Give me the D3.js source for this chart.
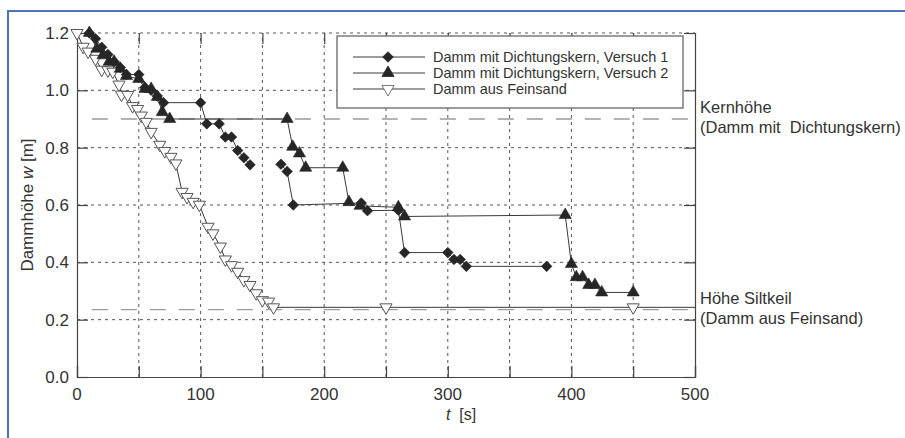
<!DOCTYPE html>
<html>
<head>
<meta charset="utf-8">
<script src="https://cdn.jsdelivr.net/npm/d3@7"></script>
<style>
  body { margin: 0; background: #fff; }
  svg { display: block; font-family: "Liberation Sans", Arial, sans-serif; }
</style>
</head>
<body>
<svg id="chart" width="905" height="438"></svg>
<script>
// t [s], w [m]
const versuch1 = [
    [10, 1.2], [15, 1.18], [20, 1.15], [25, 1.125], [30, 1.1], [35, 1.08], [40, 1.055],
    [50, 1.055], [55, 1.01], [60, 1.0], [65, 0.98], [70, 0.957], [100, 0.957],
    [105, 0.883], [115, 0.883], [120, 0.837], [125, 0.837], [130, 0.79], [135, 0.765],
    [140, 0.74], null, [165, 0.742], [170, 0.717], [175, 0.6], [230, 0.607], [235, 0.58],
    [260, 0.582], [265, 0.434], [300, 0.434], [305, 0.41], [310, 0.41], [315, 0.386],
    [380, 0.386]
];
const versuch2 = [
    [10, 1.2], [16, 1.145], [21, 1.122], [26, 1.1], [30, 1.1], [35, 1.075], [40, 1.05],
    [50, 1.04], [55, 1.005], [60, 1.005], [65, 0.977], [69, 0.924], [75, 0.9], [170, 0.9],
    [174.5, 0.803], [180, 0.78], [185, 0.73], [215, 0.73], [220, 0.61], [229, 0.597],
    [260, 0.592], [265, 0.56], [395, 0.565], [400, 0.394], [404, 0.348], [409, 0.348],
    [414, 0.321], [419, 0.321], [424.5, 0.295], [450, 0.295]
];
const feinsand = [
    [0, 1.2], [5, 1.152], [9, 1.135], [15, 1.11], [20, 1.072], [25, 1.07], [29, 1.065],
    [34, 1.02], [36, 0.985], [41, 0.984], [45, 0.945], [49, 0.935], [52, 0.912], [56, 0.89],
    [60, 0.855], [67, 0.81], [71, 0.788], [76, 0.768], [80, 0.745], [85, 0.646], [89, 0.628],
    [94, 0.611], [99, 0.601], [106, 0.524], [110, 0.501], [116, 0.455], [120, 0.41],
    [125, 0.39], [130, 0.367], [135, 0.338], [140, 0.321], [145, 0.292], [150, 0.268],
    [155, 0.263], [159, 0.243], [250, 0.243], [450, 0.243], [500, 0.243]
];
const kernHoehe = 0.9;
const siltkeilHoehe = 0.235;

const xTicks = [0, 100, 200, 300, 400, 500];
const xGrid = [50, 100, 150, 200, 250, 300, 350, 400, 450];
const yTicks = [0.0, 0.2, 0.4, 0.6, 0.8, 1.0, 1.2];

const legendLabels = [
    'Damm mit Dichtungskern, Versuch 1',
    'Damm mit Dichtungskern, Versuch 2',
    'Damm aus Feinsand'
];

const svg = d3.select('#chart');
const margin = {left: 77, top: 33, right: 210, bottom: 61};
const width = 905, height = 438;

const x = d3.scaleLinear().domain([0, 500]).range([margin.left, width - margin.right]);
const y = d3.scaleLinear().domain([0, 1.2]).range([height - margin.bottom, margin.top]);

// blue frame of the scan
svg.append('path')
    .attr('d', `M8,438 L8,11 L905,11`)
    .attr('fill', 'none')
    .attr('stroke', '#4f72b3')
    .attr('stroke-width', 2);

const grid = svg.append('g')
    .attr('stroke', '#555')
    .attr('stroke-width', 1)
    .attr('stroke-dasharray', '3,4');

grid.selectAll('line.v')
    .data(xGrid)
    .join('line')
    .attr('x1', d => x(d)).attr('x2', d => x(d))
    .attr('y1', y(0)).attr('y2', y(1.2));

grid.selectAll('line.h')
    .data(yTicks.filter(d => d > 0))
    .join('line')
    .attr('class', 'h')
    .attr('x1', x(0)).attr('x2', x(500))
    .attr('y1', d => y(d)).attr('y2', d => y(d));

// reference heights
svg.append('g')
    .attr('stroke', '#9a9a9a')
    .attr('stroke-width', 1.3)
    .attr('stroke-dasharray', '16,13')
    .selectAll('line')
    .data([kernHoehe, siltkeilHoehe])
    .join('line')
    .attr('x1', x(12)).attr('x2', x(500))
    .attr('y1', d => y(d)).attr('y2', d => y(d));

// axes, ticks pointing inward
const tickLen = 11;
svg.append('g')
    .attr('transform', `translate(0,${y(0)})`)
    .call(d3.axisBottom(x).tickValues(xGrid.concat([0, 500])).tickSize(-tickLen).tickFormat(''));
svg.append('g')
    .attr('transform', `translate(0,${y(1.2)})`)
    .call(d3.axisTop(x).tickValues(xGrid).tickSize(-tickLen).tickFormat(''))
    .call(g => g.select('.domain').remove());
svg.append('g')
    .attr('transform', `translate(${x(0)},0)`)
    .call(d3.axisLeft(y).tickValues(yTicks).tickSize(-tickLen).tickFormat(''));
svg.append('g')
    .attr('transform', `translate(${x(500)},0)`)
    .call(d3.axisRight(y).tickValues(yTicks).tickSize(-tickLen).tickFormat(''));

svg.selectAll('.domain, .tick line').attr('stroke', '#444').attr('stroke-width', 1.2);

// tick labels
svg.append('g')
    .selectAll('text')
    .data(xTicks)
    .join('text')
    .attr('x', d => x(d))
    .attr('y', y(0) + 23)
    .attr('text-anchor', 'middle')
    .attr('font-size', 17)
    .attr('fill', '#333')
    .text(d => d);

svg.append('g')
    .selectAll('text')
    .data(yTicks)
    .join('text')
    .attr('x', x(0) - 8)
    .attr('y', d => y(d) + 6)
    .attr('text-anchor', 'end')
    .attr('font-size', 17)
    .attr('fill', '#333')
    .text(d => d3.format('.1f')(d));

// axis titles
const yTitle = svg.append('text')
    .attr('transform', `translate(33,${(y(0) + y(1.2)) / 2}) rotate(-90)`)
    .attr('text-anchor', 'middle')
    .attr('font-size', 17)
    .attr('fill', '#333');
yTitle.append('tspan').text('Dammhöhe ');
yTitle.append('tspan').attr('font-style', 'italic').text('w');
yTitle.append('tspan').text(' [m]');

const xTitle = svg.append('text')
    .attr('x', (x(0) + x(500)) / 2 + 75)
    .attr('y', y(0) + 43)
    .attr('text-anchor', 'middle')
    .attr('font-size', 16)
    .attr('fill', '#333')
    .attr('xml:space', 'preserve');
xTitle.append('tspan').attr('font-style', 'italic').text('t');
xTitle.append('tspan').text('  [s]');

// series
const line = d3.line()
    .defined(d => d !== null)
    .x(d => x(d[0]))
    .y(d => y(d[1]));

const series = [
    {data: versuch1, symbol: 'diamond'},
    {data: versuch2, symbol: 'up'},
    {data: feinsand, symbol: 'down'}
];

const symbolPath = {
    diamond: d3.symbol(d3.symbolSquare, 56)(),
    up: d3.symbol(d3.symbolTriangle, 64)(),
    down: d3.symbol(d3.symbolTriangle, 64)()
};
const symbolRotate = {diamond: 45, up: 0, down: 180};

for (const s of series) {
    svg.append('path')
        .datum(s.data)
        .attr('d', line)
        .attr('fill', 'none')
        .attr('stroke', '#3a3a3a')
        .attr('stroke-width', 1);
}

for (const s of series.slice().reverse()) {
    svg.append('g')
        .selectAll('path')
        .data(s.data.filter(d => d !== null && d[0] < 500))
        .join('path')
        .attr('d', symbolPath[s.symbol])
        .attr('transform', d => `translate(${x(d[0])},${y(d[1])}) rotate(${symbolRotate[s.symbol]})`)
        .attr('fill', s.symbol === 'down' ? '#fff' : '#262626')
        .attr('stroke', s.symbol === 'down' ? '#555' : '#262626')
        .attr('stroke-width', s.symbol === 'down' ? 1 : 0.6);
}

// legend
const legend = svg.append('g');
legend.append('rect')
    .attr('x', 337).attr('y', 36)
    .attr('width', 346).attr('height', 72)
    .attr('fill', '#fff')
    .attr('stroke', '#666')
    .attr('stroke-width', 1.3);

const rows = legend.selectAll('g.row')
    .data(series)
    .join('g')
    .attr('transform', (d, i) => `translate(0,${57 + i * 16})`);

rows.append('line')
    .attr('x1', 353).attr('x2', 425)
    .attr('stroke', '#3a3a3a');
rows.append('path')
    .attr('d', d => symbolPath[d.symbol])
    .attr('transform', d => `translate(388,0) rotate(${symbolRotate[d.symbol]})`)
    .attr('fill', d => d.symbol === 'down' ? '#fff' : '#262626')
    .attr('stroke', d => d.symbol === 'down' ? '#555' : '#262626')
    .attr('stroke-width', 0.8);
rows.append('text')
    .attr('x', 433)
    .attr('y', 5)
    .attr('font-size', 14.5)
    .attr('fill', '#333')
    .text((d, i) => legendLabels[i]);

// annotations on the right
const notes = [
    {lines: ['Kernhöhe', '(Damm mit  Dichtungskern)'], y: 113},
    {lines: ['Höhe Siltkeil', '(Damm aus Feinsand)'], y: 304}
];
for (const n of notes) {
    svg.append('text')
        .attr('x', 700)
        .attr('y', n.y)
        .attr('font-size', 16.5)
        .attr('fill', '#333')
        .attr('xml:space', 'preserve')
        .selectAll('tspan')
        .data(n.lines)
        .join('tspan')
        .attr('x', 700)
        .attr('dy', (d, i) => i ? 20 : 0)
        .text(d => d);
}
</script>
</body>
</html>
